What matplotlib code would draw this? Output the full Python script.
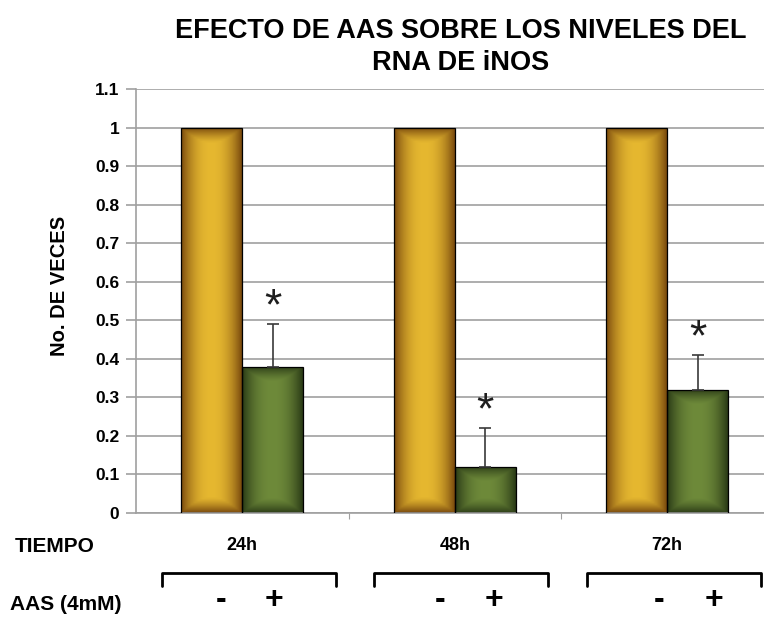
import numpy as np
import matplotlib.pyplot as plt
import matplotlib.transforms as mtransforms
from matplotlib.lines import Line2D
from matplotlib.colors import to_rgb

plt.rcParams['font.family'] = ['Liberation Sans', 'DejaVu Sans']

# data
times = ['24h', '48h', '72h']
control = [1.0, 1.0, 1.0]
aas = [0.38, 0.12, 0.32]
aas_err = [0.11, 0.10, 0.09]
signs = ['-', '+']
yticks = [0, 0.1, 0.2, 0.3, 0.4, 0.5, 0.6, 0.7, 0.8, 0.9, 1, 1.1]

ORANGE = ('#e6b830', '#7a4a0e')
GREEN = ('#6e8a3a', '#2a3a16')


def gradient_bar(ax, x, h, w, colors):
    # bar with a darkened-edge fill, like the old Excel shading
    bar = ax.bar(x, h, w, color='none', edgecolor='black', linewidth=0.9, zorder=3)[0]
    nx, ny = 80, 200
    gx = np.abs(np.linspace(-1, 1, nx))
    yy = np.linspace(0, h, ny)
    edge = 0.04
    gy = np.clip(1 - np.minimum(yy, h - yy) / edge, 0, 1)
    shade = np.maximum(gx[None, :] ** 2.2, gy[:, None] ** 1.3 * 0.95)
    c0 = np.array(to_rgb(colors[0]))
    c1 = np.array(to_rgb(colors[1]))
    img = c0[None, None, :] * (1 - shade[..., None]) + c1[None, None, :] * shade[..., None]
    im = ax.imshow(img, extent=(x - w / 2, x + w / 2, 0, h), origin='lower',
                   aspect='auto', zorder=2, interpolation='bilinear')
    im.set_clip_path(bar)
    return bar


fig = plt.figure(figsize=(7.64, 6.17), dpi=100)
ax = fig.add_axes([136 / 764, 1 - 513 / 617, 1 - 136 / 764, 424 / 617])

pos = np.arange(len(times))
w = 0.287
for i in pos:
    gradient_bar(ax, i - w / 2, control[i], w, ORANGE)
    gradient_bar(ax, i + w / 2, aas[i], w, GREEN)

ax.errorbar(pos + w / 2, aas, yerr=[np.zeros(len(aas)), aas_err], fmt='none',
            ecolor='#3a3a3a', elinewidth=1.2, capsize=4.5, capthick=1.2, zorder=4)
for i in pos:
    ax.text(i + w / 2, aas[i] + aas_err[i] + 0.012, '*', ha='center', va='baseline',
            fontsize=32, color='#1e1e1e', zorder=5)

ax.set_xlim(-0.5, (764 - 136) / 212.5 - 0.5)
ax.set_ylim(0, 1.1)
ax.set_yticks(yticks)
ax.set_yticklabels(['0' if t == 0 else ('1' if t == 1 else f'{t:.1f}') for t in yticks],
                   fontsize=12.5, fontweight='bold')
ax.grid(axis='y', color='#a0a0a0', linewidth=1.2, zorder=0)
ax.set_axisbelow(True)
ax.set_xticks(pos[:-1] + 0.5)
ax.set_xticklabels([])
ax.tick_params(axis='x', direction='out', length=4, color='#a0a0a0')
ax.tick_params(axis='y', direction='out', length=7, color='#a0a0a0', width=1.2, pad=5)
for s in ['top', 'right']:
    ax.spines[s].set_visible(False)
ax.spines['left'].set_color('#a0a0a0')
ax.spines['left'].set_linewidth(1.2)
ax.spines['bottom'].set_color('#a0a0a0')
ax.spines['bottom'].set_linewidth(1.2)
ax.set_ylabel('No. DE VECES', fontsize=14.5, fontweight='bold')
ax.yaxis.set_label_coords(-0.106, 0.535)

fig.text(0.603, 1 - 47 / 617, 'EFECTO DE AAS SOBRE LOS NIVELES DEL\nRNA DE iNOS',
         ha='center', va='center', fontsize=19.5, fontweight='bold', linespacing=1.3)

# rows under the chart
trans = mtransforms.blended_transform_factory(ax.transData, fig.transFigure)
fig.text(15 / 764, 1 - 546 / 617, 'TIEMPO', ha='left', va='center', fontsize=15, fontweight='bold')
fig.text(10 / 764, 1 - 604 / 617, 'AAS (4mM)', ha='left', va='center', fontsize=15, fontweight='bold')
for i, t in enumerate(times):
    ax.text(i, 1 - 546 / 617, t, transform=trans, ha='center', va='center',
            fontsize=13, fontweight='bold', clip_on=False)
    c = i + 0.03
    br = Line2D([c - 0.41, c - 0.41, c + 0.41, c + 0.41],
                [1 - 586 / 617, 1 - 573 / 617, 1 - 573 / 617, 1 - 586 / 617],
                transform=trans, color='black', linewidth=2, solid_joinstyle='round',
                solid_capstyle='round', clip_on=False)
    fig.add_artist(br)
    ax.text(i - 0.1 + 0.03 * i, 1 - 600 / 617, signs[0], transform=trans, ha='center',
            va='center', fontsize=23, fontweight='bold', clip_on=False)
    ax.text(i + 0.15 + 0.035 * i, 1 - 600 / 617, signs[1], transform=trans, ha='center',
            va='center', fontsize=23, fontweight='bold', clip_on=False)

fig.savefig('out.png', dpi=100)
